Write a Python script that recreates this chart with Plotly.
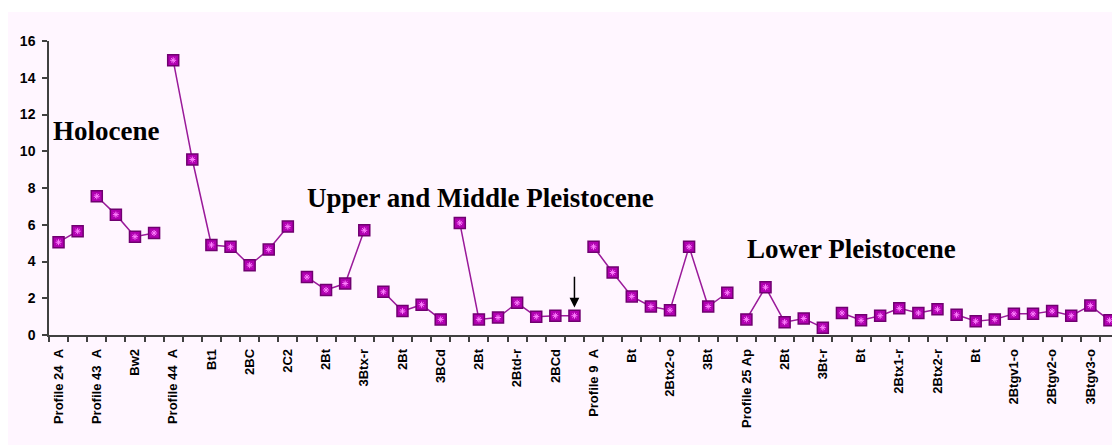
import plotly.graph_objects as go

# Values per profile segment (lines are broken between segments)
seg_p24 = [5.05, 5.65]
seg_p43 = [7.55, 6.55, 5.35, 5.55]
seg_p44 = [14.95, 9.55, 4.9, 4.8, 3.8, 4.65, 5.9]
seg_um1 = [3.15, 2.45, 2.8, 5.7]
seg_um2 = [2.35, 1.3, 1.65, 0.85]
seg_um3 = [6.1, 0.85, 0.95, 1.75, 1.0, 1.05, 1.05]
seg_p9 = [4.8, 3.4, 2.1, 1.55, 1.35, 4.8, 1.55, 2.3]
seg_p25 = [0.85, 2.6, 0.7, 0.9, 0.4]
seg_lp2 = [1.2, 0.8, 1.05, 1.45, 1.2, 1.4]
seg_lp3 = [1.1, 0.75, 0.85, 1.15, 1.15, 1.3, 1.05, 1.6, 0.8]

segments = [seg_p24, seg_p43, seg_p44, seg_um1, seg_um2, seg_um3,
            seg_p9, seg_p25, seg_lp2, seg_lp3]

# Shown category labels (every second category)
shown_labels = ["Profile 24\u00a0\u00a0A", "Profile 43\u00a0\u00a0A", "Bw2", "Profile 44\u00a0\u00a0A",
                "Bt1", "2BC", "2C2", "2Bt", "3Btx-r", "2Bt", "3BCd", "2Bt",
                "2Btd-r", "2BCd", "Profile 9\u00a0\u00a0A", "Bt", "2Btx2-o", "3Bt",
                "Profile 25 Ap", "2Bt", "3Bt-r", "Bt", "2Btx1-r", "2Btx2-r", "Bt",
                "2Btgv1-o", "2Btgv2-o", "3Btgv3-o"]

period_labels = ["Holocene", "Upper and Middle Pleistocene", "Lower Pleistocene"]
period_pos = [(-0.4, 11.1), (12.9, 7.45), (35.95, 4.7)]

n_total = sum(len(s) for s in segments)

fig = go.Figure()
LINE = "#9a1a9a"
start = 0
all_x, all_y = [], []
for seg in segments:
    xs = list(range(start, start + len(seg)))
    fig.add_trace(go.Scatter(
        x=xs, y=seg, mode="lines+markers",
        line=dict(color=LINE, width=1.5),
        marker=dict(symbol="square", size=11, color="#b000b0",
                    line=dict(color="#700070", width=1.5)),
        showlegend=False, hoverinfo="y"))
    all_x += xs
    all_y += seg
    start += len(seg)

# inner highlight of Excel-like marker
fig.add_trace(go.Scatter(
    x=all_x, y=all_y, mode="markers",
    marker=dict(symbol="asterisk-open", size=5, color="#ff80ff",
                line=dict(color="#ff80ff", width=1)),
    showlegend=False, hoverinfo="skip"))

for txt, (px, py) in zip(period_labels, period_pos):
    fig.add_annotation(x=px, y=py, xref="x", yref="y", text=txt, showarrow=False,
                       xanchor="left", yanchor="middle",
                       font=dict(family="Liberation Serif, Times New Roman, serif",
                                 size=27, color="black", weight="bold"))

# arrow marking a sample
fig.add_annotation(x=27, y=1.5, ax=27, ay=3.25, xref="x", yref="y",
                   axref="x", ayref="y", text="", showarrow=True,
                   arrowhead=2, arrowsize=1.3, arrowwidth=1.5, arrowcolor="black",
                   standoff=0)

# pink chart area background
fig.add_shape(type="rect", xref="paper", yref="paper", x0=-0.0383, x1=1.01,
              y0=-0.4, y1=1.0986, fillcolor="#fff6ff", line=dict(width=0),
              layer="below")

AX = "#404040"
fig.update_layout(
    width=1112, height=437,
    margin=dict(l=41, r=1, t=33, b=110),
    paper_bgcolor="white", plot_bgcolor="rgba(0,0,0,0)",
    font=dict(family="Arial, Liberation Sans, sans-serif", color="black"),
    xaxis=dict(
        range=[-0.5, n_total - 0.5],
        tickmode="array",
        tickvals=list(range(0, n_total, 2)),
        ticktext=shown_labels,
        tickangle=-90,
        ticks="", showgrid=False, zeroline=False,
        showline=True, linecolor=AX, linewidth=1.5,
        tickfont=dict(size=13, weight="bold"),
        ticklabelstandoff=7,
        minor=dict(tickmode="array", tickvals=[i - 0.5 for i in range(n_total + 1)],
                   ticks="outside", ticklen=5, tickcolor=AX, tickwidth=1.5,
                   showgrid=False),
    ),
    yaxis=dict(
        range=[0, 16], dtick=2, tick0=0,
        ticks="outside", ticklen=5, tickcolor=AX, tickwidth=1.5,
        showgrid=False, zeroline=False,
        showline=True, linecolor=AX, linewidth=1.5,
        tickfont=dict(size=14, weight="bold"),
        ticklabelstandoff=4,
    ),
)

fig.write_html("out.html")
